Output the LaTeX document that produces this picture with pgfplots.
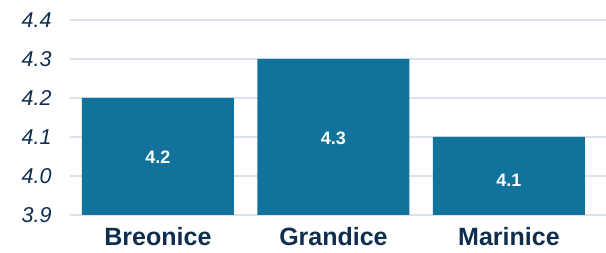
\documentclass[border=0pt]{standalone}
\usepackage{pgfplots}
\pgfplotsset{compat=1.18}
\usepackage{fontspec}
\setmainfont{Liberation Sans}
\definecolor{barc}{HTML}{11739B}
\definecolor{txt}{HTML}{0F2E4E}
\definecolor{gridc}{HTML}{DCE3EA}
\begin{document}
\begin{tikzpicture}
\begin{axis}[
  scale only axis,
  width=536bp, height=195bp,
  xmin=-0.501, xmax=2.553,
  ymin=3.9, ymax=4.4,
  ytick={3.9,4.0,4.1,4.2,4.3,4.4},
  yticklabels={3.9,4.0,4.1,4.2,4.3,4.4},
  xtick={0,1,2},
  xticklabels={Breonice,Grandice,Marinice},
  axis line style={draw=none},
  major tick length=0pt,
  ymajorgrids,
  grid style={gridc, line width=1.2bp},
  yticklabel style={font=\fontsize{21.5bp}{24bp}\selectfont\itshape, text=txt, anchor=east, xshift=-15bp},
  xticklabel style={font=\fontsize{25bp}{28bp}\selectfont\bfseries, text=txt, anchor=north, yshift=-11bp, text depth=0pt, inner sep=1bp},
  /pgf/number format/assume math mode=true,
  clip=false,
]
\addplot[ybar, bar width=0.866, fill=barc, draw=none, bar shift=0pt] coordinates {(0,4.2) (1,4.3) (2,4.1)};
\addplot[draw=none, mark=none, nodes near coords, point meta=explicit symbolic,
  every node near coord/.style={font=\fontsize{18bp}{20bp}\selectfont\bfseries, text=white, anchor=center}]
  coordinates {(0,4.047)[4.2] (1,4.097)[4.3] (2,3.99)[4.1]};
\end{axis}
\pgfresetboundingbox
\useasboundingbox ([shift={(-70bp,-38bp)}]current axis.south west) rectangle ([shift={(0bp,20bp)}]current axis.north east);
\end{tikzpicture}
\end{document}
